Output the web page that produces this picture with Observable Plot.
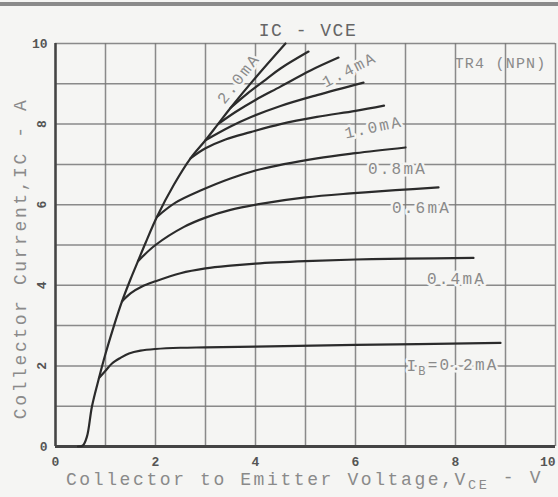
<!DOCTYPE html>
<html>
<head>
<meta charset="utf-8">
<script src="https://cdn.jsdelivr.net/npm/d3@7"></script>
<script src="https://cdn.jsdelivr.net/npm/@observablehq/plot@0.6"></script>
<style>
  html, body { margin: 0; padding: 0; background: #f5f5f3; overflow: hidden; }
  #wrap { position: relative; width: 558px; height: 497px; }
  #bar { position: absolute; left: 0; top: 2px; width: 558px; height: 4px; background: #8a8a8a; }
</style>
</head>
<body>
<div id="wrap"><div id="bar"></div></div>
<script>
// Saturation envelope (shared by all curves), VCE [V], IC [A]
const envelope = [[0.45,0],[0.55,0.03],[0.63,0.25],[0.73,1.0],[0.87,1.7],[1.0,2.3],[1.17,3.0],[1.33,3.6],[1.5,4.15],[1.65,4.6],[1.8,5.05],[2.03,5.7],[2.37,6.5],[2.7,7.15],[3.0,7.6],[3.25,8.0],[3.5,8.4],[4.0,9.15],[4.6,10]];
const ib02 = [[0.87,1.7],[1.0,1.88],[1.13,2.06],[1.3,2.2],[1.47,2.31],[1.7,2.38],[2.0,2.42],[2.5,2.45],[3,2.46],[4,2.48],[6,2.52],[8.9,2.57]];
const ib04 = [[1.33,3.6],[1.5,3.8],[1.73,3.97],[2.0,4.1],[2.5,4.3],[3,4.42],[3.5,4.49],[4,4.54],[5,4.6],[6,4.64],[7,4.66],[8.36,4.68]];
const ib06 = [[1.65,4.6],[2.0,5.0],[2.57,5.45],[3.0,5.68],[3.5,5.87],[4.1,6.02],[5.0,6.18],[5.9,6.28],[6.8,6.36],[7.66,6.43]];
const ib08 = [[2.03,5.7],[2.4,6.05],[2.9,6.35],[3.5,6.65],[4.1,6.88],[5.23,7.15],[6.0,7.28],[7.0,7.42]];
const ib10 = [[2.7,7.15],[3.0,7.4],[3.4,7.62],[3.9,7.8],[4.5,8.0],[5.23,8.18],[6.0,8.33],[6.57,8.46]];
const ib12 = [[3.0,7.6],[3.5,7.94],[3.9,8.17],[4.5,8.45],[5.23,8.72],[6.16,9.03]];
const ib14 = [[3.25,8.0],[3.6,8.3],[4.0,8.6],[4.5,8.93],[5.1,9.33],[5.66,9.65]];
const ib16 = [[3.5,8.4],[3.8,8.72],[4.2,9.1],[4.5,9.38],[5.06,9.8]];

const curveNames = ["2.0", "0.2", "0.4", "0.6", "0.8", "1.0", "1.2", "1.4", "1.6"];
const curvePoints = [envelope, ib02, ib04, ib06, ib08, ib10, ib12, ib14, ib16];

const labelText = ["2.0mA", "1.4mA", "1.0mA", "0.8mA", "0.6mA", "0.4mA", "IB=0.2mA"];
const labelV = [3.66, 5.88, 6.36, 6.84, 7.32, 8.02, 7.94];
const labelI = [9.13, 9.35, 7.92, 6.9, 5.93, 4.15, 2.0];
const labelAngle = [-52, -27, -12, 0, 0, 0, 0];

const xTicks = [0, 2, 4, 6, 8, 10];
const yTicks = [0, 2, 4, 6, 8, 10];
const gridValues = [0, 1, 2, 3, 4, 5, 6, 7, 8, 9, 10];

const titleText = "IC - VCE";
const xLabel = "Collector to Emitter Voltage,VCE - V";
const yLabel = "Collector Current,IC - A";
const noteText = "TR4 (NPN)";

const rows = curveNames.flatMap((n, k) => curvePoints[k].map(([v, i]) => ({ib: n, v, i})));
const labels = labelText.map((t, k) => ({t, v: labelV[k], i: labelI[k], a: labelAngle[k]}));

const bg = "#f5f5f3";
const mono = "'Liberation Mono', 'DejaVu Sans Mono', monospace";
const textGray = "#8a8a8a";
const tickStyle = {tickSize: 0, fontSize: 13, fontWeight: "bold", fill: "#555", label: null};

const chart = Plot.plot({
  width: 558,
  height: 497,
  marginLeft: 55,
  marginRight: 3,
  marginTop: 43,
  marginBottom: 51,
  style: {background: bg, fontFamily: mono},
  x: {domain: [0, 10], axis: null},
  y: {domain: [0, 10], axis: null},
  marks: [
    Plot.ruleX(gridValues, {stroke: "#777", strokeWidth: 1.5, strokeOpacity: 0.85}),
    Plot.ruleY(gridValues, {stroke: "#777", strokeWidth: 1.5, strokeOpacity: 0.85}),
    Plot.ruleX([0], {stroke: "#444", strokeWidth: 2.5}),
    Plot.ruleY([0], {stroke: "#444", strokeWidth: 3}),
    Plot.line(rows, {x: "v", y: "i", z: "ib", curve: "catmull-rom", stroke: "#2b2b2b", strokeWidth: 2.2}),
    Plot.text(labels, {x: "v", y: "i", text: "t", rotate: "a", fill: textGray, fontSize: 16,
      stroke: bg, strokeWidth: 5, fontFamily: mono}),
    Plot.text([noteText], {x: 9.82, y: 9.5, textAnchor: "end", fill: textGray, fontSize: 15, fontFamily: mono}),
    Plot.text([titleText], {x: 5.05, frameAnchor: "top", dy: -20, fill: "#666", fontSize: 18, fontFamily: mono}),
    Plot.text([xLabel], {x: 4.98, frameAnchor: "bottom", dy: 38, textAnchor: "middle", fill: textGray, fontSize: 18, fontFamily: mono}),
    Plot.text([yLabel], {y: 4.67, frameAnchor: "left", dx: -35, rotate: -90, textAnchor: "middle", fill: textGray, fontSize: 18, fontFamily: mono}),
    Plot.axisX(xTicks.filter(d => d < 10), {...tickStyle, tickPadding: 10}),
    Plot.axisX([10], {...tickStyle, tickPadding: 10, textAnchor: "end"}),
    Plot.axisY(yTicks.filter(d => d > 0 && d < 10), {...tickStyle, tickPadding: 14, rotate: -90, textAnchor: "middle"}),
    Plot.axisY([0, 10], {...tickStyle, tickPadding: 8})
  ]
});

document.getElementById("wrap").prepend(chart);

// letter spacing for typewriter-like text and subscripts
const spacing = new Map([[xLabel, 2.6], [yLabel, 2.6], [titleText, 1.5], [noteText, 1.2]]);
labelText.forEach(t => spacing.set(t, 2.2));
const subs = new Map([[xLabel, ["Collector to Emitter Voltage,V", "CE", " - V"]], ["IB=0.2mA", ["I", "B", "=0.2mA"]]]);
d3.select(chart).selectAll("text").each(function() {
  const s = this.textContent;
  if (spacing.has(s)) this.setAttribute("letter-spacing", spacing.get(s));
  if (subs.has(s)) {
    const [a, b, c] = subs.get(s);
    const el = d3.select(this);
    el.text(null);
    el.append("tspan").text(a);
    el.append("tspan").attr("font-size", "0.75em").attr("dy", "0.3em").text(b);
    el.append("tspan").attr("dy", "-0.3em").text(c);
  }
});
</script>
</body>
</html>
